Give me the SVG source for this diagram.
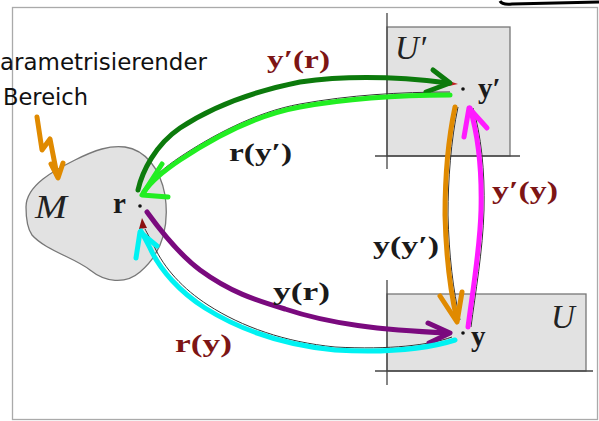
<svg xmlns="http://www.w3.org/2000/svg" width="599" height="421" viewBox="0 0 599 421">
<style>
.frame{fill:#fff;stroke:#aaa;stroke-width:1.3}
.region{fill:#e2e2e2;stroke:#777;stroke-width:1.3}
.axis{stroke:#444;stroke-width:1.3;fill:none}
.dot{fill:#111}
.it{font-family:"Liberation Serif",serif;font-style:italic;font-size:33px;fill:#222}
.bf{font-family:"Liberation Serif",serif;font-weight:bold;font-size:29px;fill:#1a1a1a}
.lab{font-family:"Liberation Serif",serif;font-weight:bold;font-size:26px}
.red{fill:#7d1515}
.blk{fill:#1a1a1a}
.hand{font-family:"DejaVu Sans","Liberation Sans",sans-serif;font-size:23px;fill:#111}
.c{fill:none;stroke-width:5;stroke-linecap:round;stroke-linejoin:round}
.thin{fill:none;stroke:#333;stroke-width:1}
</style>
<rect class="frame" x="12.5" y="7.5" width="585" height="412"/>
<path d="M500,1 Q502,5 512,4 L599,2" fill="none" stroke="#000" stroke-width="3"/>

<g id="region-M">
<path class="region" d="M26,207 C26,185 55,170 75,160 C95,150 110,145 125,147 C145,150 160,168 165,195 C170,230 160,255 140,272 C125,285 105,282 90,270 C75,258 45,250 32,235 C27,228 26,215 26,207 Z"/>
<text class="it" x="35" y="218" textLength="32" lengthAdjust="spacingAndGlyphs">M</text>
</g>
<g id="node-r">
<circle class="dot" cx="140" cy="206" r="1.8"/>
<text class="bf" x="113" y="213">r</text>
</g>

<g id="region-Uprime">
<rect class="region" x="387" y="27" width="123" height="129"/>
<line class="axis" x1="387" y1="13" x2="387" y2="169"/>
<line class="axis" x1="375" y1="156" x2="520" y2="156"/>
<text class="it" x="395" y="59">U′</text>
</g>
<g id="node-yprime">
<circle class="dot" cx="463" cy="89" r="1.8"/>
<text class="bf" x="478" y="98">y′</text>
</g>

<g id="region-U">
<rect class="region" x="387" y="294" width="199" height="77"/>
<line class="axis" x1="387" y1="280" x2="387" y2="385"/>
<line class="axis" x1="375" y1="371" x2="593" y2="371"/>
<text class="it" x="551" y="328">U</text>
</g>
<g id="node-y">
<circle class="dot" cx="463" cy="333" r="1.8"/>
<text class="bf" x="471" y="346">y</text>
</g>

<g id="annotation">
<text class="hand" x="0" y="70" textLength="207" lengthAdjust="spacingAndGlyphs">arametrisierender</text>
<text class="hand" x="3" y="105" textLength="85" lengthAdjust="spacingAndGlyphs">Bereich</text>
<g class="c" stroke="#e08a00" stroke-width="3">
<polyline points="37,117 42,150 50,139 57,175"/>
<polyline points="51,164 58,178 63,163"/>
</g>
</g>

<g id="connectors">
<!-- original thin arrows -->
<path class="thin" d="M450,92 C400,92 350,95 300,104 C255,112 210,137 180,157 C165,167 153,177 146,189"/>
<path class="thin" stroke="#7d1515" d="M452,337 C430,345 390,350 335,347 C285,342 242,327 208,305 C183,289 164,268 154,246 C150,238 147,233 145,229"/>
<path class="thin" d="M458,107 C451,140 448,180 448,215 C449,255 453,290 460,320"/>
<path class="thin" d="M471,327 C475,295 483,250 484,210 C485,170 481,135 473,108"/>
<polygon points="449,81 458,84 449,86" fill="#c02020"/>
<polygon points="142,218 139,229 147,228" fill="#8b1010"/>

<!-- y'(r) dark green -->
<path class="c" stroke="#0c7a0c" d="M138,190 C142,172 155,145 180,128 C210,108 250,92 300,82 C350,75 400,77 448,83"/>
<polyline class="c" stroke="#0c7a0c" points="433,70 450,83 426,92"/>
<!-- r(y') light green -->
<path class="c" stroke="#22ee22" d="M450,95 C400,95 350,98 300,107 C255,115 210,140 180,160 C165,170 152,180 144,192"/>
<polyline class="c" stroke="#22ee22" points="162,164 142,195 168,197"/>
<!-- y(r) purple -->
<path class="c" stroke="#7a0a7e" d="M147,212 C160,230 180,255 200,270 C230,292 255,300 285,309 C330,324 380,330 448,333"/>
<polyline class="c" stroke="#7a0a7e" points="428,323 450,333 429,343"/>
<!-- r(y) cyan -->
<path class="c" stroke="#00f2f2" d="M455,340 C430,348 390,353 335,350 C285,345 240,330 205,308 C180,292 160,270 150,248 C146,240 143,235 141,231"/>
<polyline class="c" stroke="#00f2f2" points="136,258 140,232 157,246"/>
<!-- y(y') orange -->
<path class="c" stroke="#e08a00" d="M455,107 C448,140 445,180 445,215 C446,255 450,290 457,320"/>
<polyline class="c" stroke="#e08a00" points="440,296 457,322 462,292"/>
<!-- y'(y) magenta -->
<path class="c" stroke="#ff1aff" d="M468,327 C472,295 480,250 481,210 C482,170 478,135 470,108"/>
<polyline class="c" stroke="#ff1aff" points="464,137 469,108 487,128"/>
</g>

<g id="labels">
<text class="lab red" x="267" y="68" textLength="63" lengthAdjust="spacingAndGlyphs">y′(r)</text>
<text class="lab blk" x="229" y="161" textLength="63" lengthAdjust="spacingAndGlyphs">r(y′)</text>
<text class="lab red" x="492" y="199" textLength="66" lengthAdjust="spacingAndGlyphs">y′(y)</text>
<text class="lab blk" x="373" y="254" textLength="66" lengthAdjust="spacingAndGlyphs">y(y′)</text>
<text class="lab blk" x="273" y="300" textLength="57" lengthAdjust="spacingAndGlyphs">y(r)</text>
<text class="lab red" x="175" y="352" textLength="57" lengthAdjust="spacingAndGlyphs">r(y)</text>
</g>
</svg>
